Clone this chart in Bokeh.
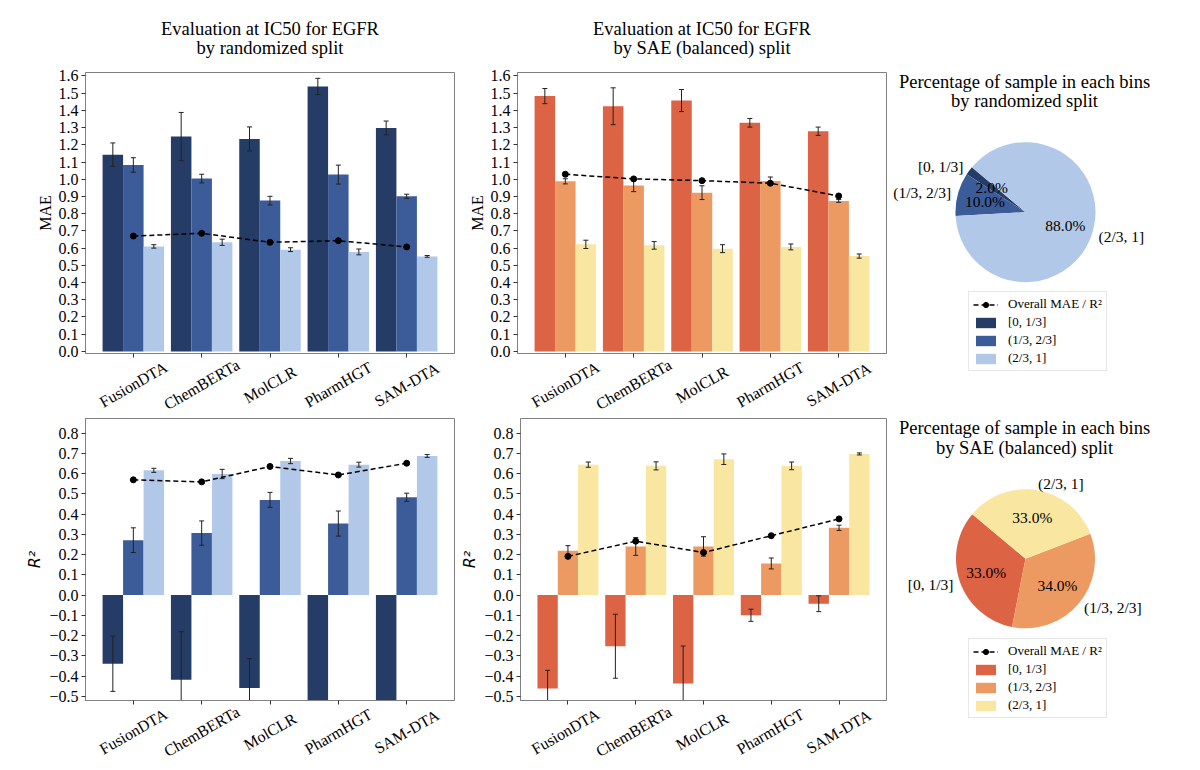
import math
import numpy as np
from bokeh.plotting import figure
from bokeh.layouts import column, row
from bokeh.models import (ColumnDataSource, FixedTicker, CustomJSTickFormatter, Range1d,
                          Legend, LegendItem)
from bokeh.embed import file_html
from bokeh.resources import INLINE

# ---------------- data ----------------
models = ["FusionDTA", "ChemBERTa", "MolCLR", "PharmHGT", "SAM-DTA"]
bins = ["[0, 1/3]", "(1/3, 2/3]", "(2/3, 1]"]

# MAE, randomized split
mae_rand_low = [1.143, 1.248, 1.234, 1.539, 1.298]
mae_rand_low_err = [0.068, 0.140, 0.070, 0.047, 0.040]
mae_rand_mid = [1.083, 1.004, 0.876, 1.027, 0.901]
mae_rand_mid_err = [0.042, 0.025, 0.025, 0.055, 0.012]
mae_rand_high = [0.610, 0.634, 0.591, 0.578, 0.552]
mae_rand_high_err = [0.010, 0.018, 0.011, 0.017, 0.005]
mae_rand_overall = [0.670, 0.686, 0.634, 0.643, 0.607]

# MAE, SAE (balanced) split
mae_sae_low = [1.483, 1.424, 1.457, 1.328, 1.279]
mae_sae_low_err = [0.044, 0.107, 0.064, 0.025, 0.024]
mae_sae_mid = [0.988, 0.963, 0.922, 0.990, 0.874]
mae_sae_mid_err = [0.015, 0.035, 0.040, 0.023, 0.008]
mae_sae_high = [0.622, 0.616, 0.597, 0.607, 0.554]
mae_sae_high_err = [0.024, 0.022, 0.023, 0.017, 0.012]
mae_sae_overall = [1.029, 1.002, 0.992, 0.977, 0.903]

# R2, randomized split
r2_rand_low = [-0.339, -0.418, -0.459, -0.750, -0.700]
r2_rand_low_err = [0.137, 0.237, 0.145, 0.150, 0.150]
r2_rand_mid = [0.271, 0.306, 0.470, 0.353, 0.483]
r2_rand_mid_err = [0.061, 0.060, 0.037, 0.062, 0.020]
r2_rand_high = [0.616, 0.598, 0.662, 0.644, 0.687]
r2_rand_high_err = [0.010, 0.023, 0.013, 0.012, 0.007]
r2_rand_overall = [0.569, 0.559, 0.635, 0.593, 0.651]

# R2, SAE (balanced) split
r2_sae_low = [-0.462, -0.253, -0.437, -0.100, -0.043]
r2_sae_low_err = [0.090, 0.158, 0.185, 0.030, 0.039]
r2_sae_mid = [0.219, 0.240, 0.240, 0.156, 0.332]
r2_sae_mid_err = [0.025, 0.044, 0.048, 0.027, 0.013]
r2_sae_high = [0.644, 0.638, 0.671, 0.638, 0.697]
r2_sae_high_err = [0.013, 0.020, 0.026, 0.019, 0.005]
r2_sae_overall = [0.191, 0.266, 0.210, 0.293, 0.376]

# Percentage of samples in each bin
pct_rand = [2.0, 10.0, 88.0]
pct_sae = [33.0, 34.0, 33.0]

mae_ticks = [round(0.1 * i, 1) for i in range(0, 17)]
r2_ticks = [round(0.1 * i, 1) for i in range(-5, 9)]

titles_rand = ["Evaluation at IC50 for EGFR", "by randomized split"]
titles_sae = ["Evaluation at IC50 for EGFR", "by SAE (balanced) split"]
pie_titles_rand = ["Percentage of sample in each bins", "by randomized split"]
pie_titles_sae = ["Percentage of sample in each bins", "by SAE (balanced) split"]

blues = ["#253d66", "#3b5c98", "#b2c8e8"]
oranges = ["#dd6345", "#ed9a62", "#f8e6a1"]

SERIF = "Liberation Serif"
FRAME_COL = "#808080"
DASH = "5 3"
FRAME_W = 369
X_LO, X_HI = -0.7, 4.7


def bar_panel(vals, errs, overall, colors, yr, ticks, ylabel, italic_label,
              left, right, top, bottom, frame_h):
    p = figure(width=left + FRAME_W + right, height=top + frame_h + bottom,
               x_range=Range1d(X_LO, X_HI), y_range=Range1d(*yr),
               output_backend="svg", toolbar_location=None,
               min_border_left=left, min_border_right=right,
               min_border_top=top, min_border_bottom=bottom)
    xs = np.arange(len(models))
    offsets = [-0.3, 0.0, 0.3]
    for k in range(3):
        p.vbar(x=xs + offsets[k], top=vals[k], bottom=0, width=0.3,
               fill_color=colors[k], line_color=None)
    for k in range(3):
        x = xs + offsets[k]
        v = np.array(vals[k]); e = np.array(errs[k])
        p.segment(x0=x, y0=v - e, x1=x, y1=v + e, line_color="#222222", line_width=1)
        p.scatter(x=x, y=v + e, marker="dash", size=5, line_color="#222222", line_width=1)
        p.scatter(x=x, y=v - e, marker="dash", size=5, line_color="#222222", line_width=1)
    p.line(xs, overall, line_color="black", line_width=1.5, line_dash=DASH)
    p.scatter(xs, overall, size=6, color="black")

    p.xgrid.visible = False
    p.ygrid.visible = False
    p.outline_line_color = FRAME_COL
    p.outline_line_width = 1
    p.xaxis.ticker = FixedTicker(ticks=list(range(len(models))))
    p.xaxis.formatter = CustomJSTickFormatter(code="return '';")
    p.yaxis.ticker = FixedTicker(ticks=ticks)
    p.yaxis.formatter = CustomJSTickFormatter(
        code="return tick.toFixed(1).replace('-', '\u2212');")
    for ax in (p.xaxis[0], p.yaxis[0]):
        ax.axis_line_color = FRAME_COL
        ax.major_tick_out = 4
        ax.major_tick_in = 0
        ax.minor_tick_out = 0
        ax.minor_tick_in = 0
        ax.major_tick_line_color = "#333333"
        ax.major_label_text_font = SERIF
        ax.major_label_text_font_size = "16px"
        ax.major_label_text_color = "black"
        ax.major_label_standoff = 3
    p.xaxis[0].major_label_standoff = 0
    p.yaxis.axis_label = ylabel
    if italic_label:
        p.yaxis.axis_label_text_font = "DejaVu Sans"
        p.yaxis.axis_label_text_font_style = "italic"
    else:
        p.yaxis.axis_label_text_font = SERIF
        p.yaxis.axis_label_text_font_style = "normal"
    p.yaxis.axis_label_text_font_size = "16px"
    p.yaxis.axis_label_text_color = "black"
    p.yaxis.axis_label_standoff = 2
    return p


def text_strip(left, right, h, xs, ys, texts, angle, size):
    """A frame-only strip sharing the panel's x scale, for titles / rotated names."""
    p = figure(width=left + FRAME_W + right, height=h,
               x_range=Range1d(X_LO, X_HI), y_range=Range1d(0, h),
               output_backend="svg", toolbar_location=None,
               min_border_left=left, min_border_right=right,
               min_border_top=0, min_border_bottom=0,
               x_axis_type=None, y_axis_type=None)
    p.outline_line_color = None
    p.xgrid.visible = False
    p.ygrid.visible = False
    p.text(x=xs, y=ys, text=texts, angle=angle, text_align="center",
           text_baseline="middle", text_font={"value": SERIF},
           text_font_size=size, text_color="black")
    return p


def pie_panel(pcts, colors, H, cx, cy, R, title_lines, title_ys, legend_bottom):
    W = 300
    p = figure(width=W, height=H, x_range=Range1d(0, W), y_range=Range1d(0, H),
               output_backend="svg", toolbar_location=None, min_border=0,
               x_axis_type=None, y_axis_type=None)
    p.xgrid.visible = False
    p.ygrid.visible = False
    p.outline_line_color = None
    fr = np.array(pcts) / np.sum(pcts)
    cum = np.concatenate([[0.0], np.cumsum(fr)])
    start0 = math.radians(140)
    starts = start0 + 2 * math.pi * cum[:-1]
    ends = start0 + 2 * math.pi * cum[1:]
    src = ColumnDataSource(dict(start=starts, end=ends, color=colors))
    wr = p.wedge(x=cx, y=cy, radius=R, start_angle="start", end_angle="end",
                 fill_color="color", line_color=None, source=src)
    mid = (starts + ends) / 2
    lx = cx + 1.1 * R * np.cos(mid)
    ly = cy + 1.1 * R * np.sin(mid)
    align = ["left" if c > 0 else "right" for c in np.cos(mid)]
    p.text(x=lx, y=ly, text=bins, text_align=align, text_baseline="middle",
           text_font={"value": SERIF}, text_font_size="15.5px", text_color="black")
    px = cx + 0.6 * R * np.cos(mid)
    py = cy + 0.6 * R * np.sin(mid)
    p.text(x=px, y=py, text=["%1.1f%%" % v for v in pcts], text_align="center",
           text_baseline="middle", text_font={"value": SERIF},
           text_font_size="15.5px", text_color="black")
    p.text(x=[134, 134], y=title_ys, text=title_lines, text_align="center",
           text_baseline="middle", text_font={"value": SERIF},
           text_font_size="18.5px", text_color="black")

    ov_line = p.line([-50, -40], [-50, -50], line_color="black", line_width=1.5,
                     line_dash=DASH)
    ov_pt = p.scatter([-45], [-50], size=6, color="black")
    items = [LegendItem(label="Overall MAE / R\u00b2", renderers=[ov_line, ov_pt])]
    items += [LegendItem(label=b, renderers=[wr], index=i) for i, b in enumerate(bins)]
    lg = Legend(items=items, location=(78, legend_bottom), orientation="vertical",
                label_text_font=SERIF, label_text_font_size="13px",
                label_text_color="black", glyph_width=25, glyph_height=13,
                label_height=13, label_standoff=10, spacing=2, padding=4,
                margin=0, border_line_color="#d0d0d0", border_line_width=1,
                background_fill_color="white", background_fill_alpha=1.0)
    p.add_layout(lg)
    return p


L1, R1 = 85, 3      # left column borders
L2, R2 = 60, 4      # middle column borders
XC = (X_LO + X_HI) / 2
name_x = list(range(len(models)))
ANG = math.pi / 6

# titles (strip 64 px high)
t1 = text_strip(L1, R1, 64, [XC, XC], [35.2, 16.9], titles_rand, 0, "18.5px")
t2 = text_strip(L2, R2, 64, [XC, XC], [35.2, 16.9], titles_sae, 0, "18.5px")

tl = bar_panel([mae_rand_low, mae_rand_mid, mae_rand_high],
               [mae_rand_low_err, mae_rand_mid_err, mae_rand_high_err],
               mae_rand_overall, blues, (-0.012, 1.62), mae_ticks, "MAE", False,
               L1, R1, 8, 8, 281)
tm = bar_panel([mae_sae_low, mae_sae_mid, mae_sae_high],
               [mae_sae_low_err, mae_sae_mid_err, mae_sae_high_err],
               mae_sae_overall, oranges, (-0.012, 1.62), mae_ticks, "MAE", False,
               L2, R2, 8, 8, 281)

n1 = text_strip(L1, R1, 54, name_x, [31] * 5, models, ANG, "16px")
n2 = text_strip(L2, R2, 54, name_x, [31] * 5, models, ANG, "16px")

bl = bar_panel([r2_rand_low, r2_rand_mid, r2_rand_high],
               [r2_rand_low_err, r2_rand_mid_err, r2_rand_high_err],
               r2_rand_overall, blues, (-0.521, 0.872), r2_ticks, "R\u00b2", True,
               L1, R1, 3, 8, 282)
bm = bar_panel([r2_sae_low, r2_sae_mid, r2_sae_high],
               [r2_sae_low_err, r2_sae_mid_err, r2_sae_high_err],
               r2_sae_overall, oranges, (-0.521, 0.872), r2_ticks, "R\u00b2", True,
               L2, R2, 3, 8, 282)

n3 = text_strip(L1, R1, 56, name_x, [33] * 5, models, ANG, "16px")
n4 = text_strip(L2, R2, 56, name_x, [33] * 5, models, ANG, "16px")

# pie coordinates: pixels measured up from the bottom-left of each pie figure
pie1 = pie_panel(pct_rand, blues, 411, 135, 199.3, 70, pie_titles_rand,
                 [329.9, 310.5], 40)
pie2 = pie_panel(pct_sae, oranges, 349, 135, 201.7, 69.5, pie_titles_sae,
                 [332.2, 312.9], 42)

left_block = column(row(t1, t2), row(tl, tm), row(n1, n2), row(bl, bm), row(n3, n4))
layout = row(left_block, column(pie1, pie2))
open("out.html", "w").write(file_html(layout, INLINE))
